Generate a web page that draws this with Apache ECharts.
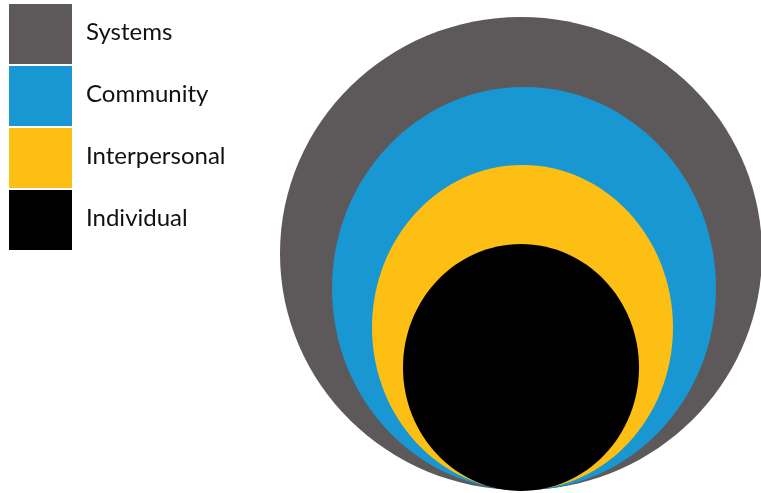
<!DOCTYPE html>
<html>
<head>
<meta charset="utf-8">
<script src="https://cdn.jsdelivr.net/npm/echarts@6/dist/echarts.min.js"></script>
<style>html,body{margin:0;padding:0;background:#fff;}#c{width:761px;height:493px;}</style>
</head>
<body>
<div id="c"></div>
<script>
// Levels of the nested model (outermost first)
var levels = ['Systems', 'Community', 'Interpersonal', 'Individual'];
var colors = ['#5d595a', '#1897d3', '#fdbf14', '#000000'];
// ellipse extents in chart units (width, height), centre x, shared base
var centerX = [521, 524, 522.5, 521];
var widths = [482, 384, 301, 236];
var heights = [473, 403, 325, 247];
var baseY = [3, 3, 3, 2];

var chart = echarts.init(document.getElementById('c'));

function renderEllipse(params, api) {
  var cx = api.value(0), w = api.value(1), h = api.value(2), b = api.value(3);
  var p1 = api.coord([cx - w / 2, b + h]);
  var p2 = api.coord([cx + w / 2, b]);
  return {
    type: 'ellipse',
    shape: {
      cx: (p1[0] + p2[0]) / 2,
      cy: (p1[1] + p2[1]) / 2,
      rx: Math.abs(p2[0] - p1[0]) / 2,
      ry: Math.abs(p2[1] - p1[1]) / 2
    },
    style: { fill: api.visual('color') }
  };
}

var series = levels.map(function (name, i) {
  return {
    type: 'custom',
    name: name,
    coordinateSystem: 'cartesian2d',
    clip: false,
    silent: true,
    itemStyle: { color: colors[i] },
    data: [[centerX[i], widths[i], heights[i], baseY[i]]],
    renderItem: renderEllipse,
    z: 2 + i
  };
});

chart.setOption({
  animation: false,
  backgroundColor: '#ffffff',
  color: colors,
  grid: { left: 0, right: 0, top: 0, bottom: 0 },
  xAxis: { type: 'value', min: 0, max: 761, show: false },
  yAxis: { type: 'value', min: 0, max: 493, show: false },
  legend: {
    orient: 'vertical',
    left: 9,
    top: 4,
    padding: 0,
    itemWidth: 63,
    itemHeight: 60,
    itemGap: 2,
    icon: 'rect',
    selectedMode: false,
    data: levels,
    formatter: '{a|{name}}',
    textStyle: {
      fontFamily: 'Lato, "Open Sans", sans-serif',
      fontSize: 24,
      color: '#111111',
      padding: [0, 0, 0, 9],
      rich: {
        a: {
          fontFamily: 'Lato, "Open Sans", sans-serif',
          fontSize: 24,
          lineHeight: 24,
          color: '#111111',
          padding: [0, 0, 4, 0]
        }
      }
    }
  },
  series: series
});
</script>
</body>
</html>
